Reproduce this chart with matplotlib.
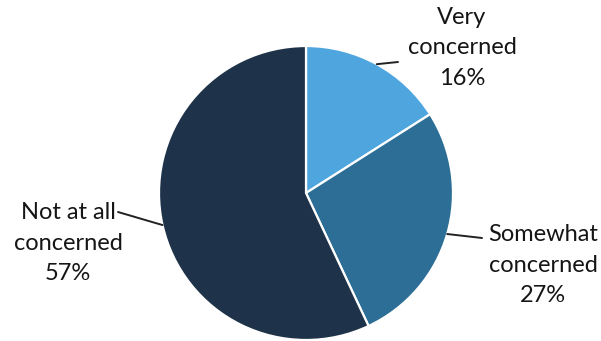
import numpy as np
import matplotlib
matplotlib.use("Agg")
import matplotlib.pyplot as plt

# Survey responses: level of concern
categories = ["Very\nconcerned", "Somewhat\nconcerned", "Not at all\nconcerned"]
shares = [16, 27, 57]
colors = ["#4fa6df", "#2d6e96", "#1e3349"]

W, H = 601, 341
fig = plt.figure(figsize=(W / 100, H / 100), dpi=100)
ax = fig.add_axes([0, 0, 1, 1])

cx, cy, r = 306, 148, 147
wedges, _ = ax.pie(shares, colors=colors, startangle=90, counterclock=False,
                   center=(cx, cy), radius=r, frame=True,
                   wedgeprops=dict(edgecolor="white", linewidth=1.6))
ax.set_xlim(0, W)
ax.set_ylim(0, H)
ax.set_aspect("equal")
ax.axis("off")

# label placement: (text centre x, text centre y, leader end x, leader end y)
label_pos = [(462, 293, 398, 279), (543, 76, 482, 103), (68, 98, 118, 129)]
font = dict(family=["Lato", "DejaVu Sans"], size=17, color="#151515")

for w, cat, val, (tx, ty, lx, ly) in zip(wedges, categories, shares, label_pos):
    mid = np.deg2rad((w.theta1 + w.theta2) / 2)
    ex, ey = cx + r * np.cos(mid), cy + r * np.sin(mid)
    ax.plot([ex, lx], [ey, ly], color="#222222", lw=1.4, solid_capstyle="round")
    ax.text(tx, ty, f"{cat}\n{val}%", ha="center", va="center",
            multialignment="center", linespacing=1.55, **font)

fig.savefig("out.png", dpi=100)
